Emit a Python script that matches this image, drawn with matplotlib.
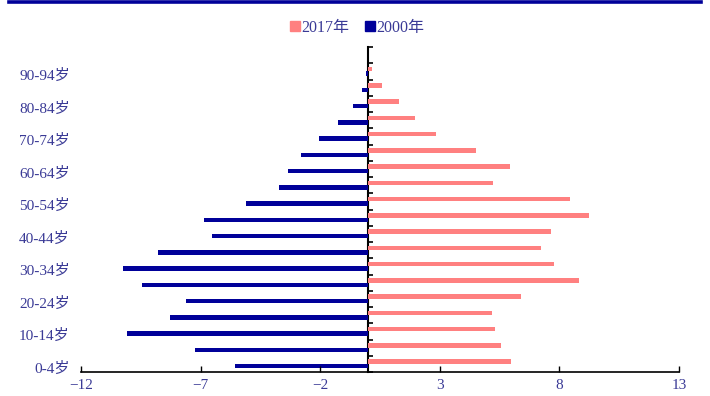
import numpy as np
import matplotlib
matplotlib.use('Agg')
import matplotlib.pyplot as plt
import matplotlib.transforms as mtransforms
from matplotlib.lines import Line2D

plt.rcParams['font.family'] = ['Liberation Serif', 'Noto Sans CJK SC', 'DejaVu Sans']

# 年龄组 0-4岁 ... 90-94岁 (占总人口比例, %)
age_groups = ['0-4岁', '5-9岁', '10-14岁', '15-19岁', '20-24岁', '25-29岁', '30-34岁',
              '35-39岁', '40-44岁', '45-49岁', '50-54岁', '55-59岁', '60-64岁', '65-69岁',
              '70-74岁', '75-79岁', '80-84岁', '85-89岁', '90-94岁']
pop_2017 = [5.97, 5.54, 5.31, 5.19, 6.40, 8.80, 7.78, 7.23, 7.66, 9.22,
            8.46, 5.23, 5.95, 4.51, 2.86, 1.97, 1.28, 0.59, 0.17]
pop_2000 = [5.55, 7.25, 10.08, 8.28, 7.62, 9.44, 10.24, 8.77, 6.54, 6.87,
            5.09, 3.72, 3.36, 2.80, 2.05, 1.27, 0.63, 0.24, 0.07]
x_ticks = [-12, -7, -2, 3, 8, 13]

pink = '#FF8080'
navy = '#000099'
txt = '#3a3a96'

fig = plt.figure(figsize=(7.10, 3.96), dpi=100)
ax = fig.add_axes([0.1141, 0.0606, 0.8422, 0.8207])

y = np.arange(len(age_groups))
h = 0.27
ax.barh(y + 0.135, pop_2017, height=h, color=pink, label='2017年')
ax.barh(y - 0.135, [-v for v in pop_2000], height=h, color=navy, label='2000年')

ax.set_xlim(-12, 13)
ax.set_ylim(-0.5, 19.5)
ax.set_xticks(x_ticks)
ax.set_xticklabels([str(v).replace('-', '\u2212') for v in x_ticks], color=txt, fontsize=11)
ax.tick_params(axis='x', direction='in', length=4, width=1, pad=5, color='black')

for s in ['top', 'right', 'left']:
    ax.spines[s].set_visible(False)
ax.spines['bottom'].set_linewidth(1.2)

# 年龄标签放在左侧, 刻度线画在 x=0 的纵轴上
ax.set_yticks(y[::2])
ax.set_yticklabels(age_groups[::2], color=txt, fontsize=11)
ax.tick_params(axis='y', length=0, pad=8)
shift = mtransforms.ScaledTranslation(0, -2.5 / 72, fig.dpi_scale_trans)
for lab in ax.get_yticklabels():
    lab.set_transform(lab.get_transform() + shift)

x0, x1 = ax.get_xlim()
sec = ax.secondary_yaxis((0 - x0) / (x1 - x0))
sec.set_yticks(np.arange(-0.5, 20, 1))
sec.set_yticklabels([])
sec.tick_params(axis='y', direction='in', length=3.5, width=1.2, color='black')
sec.spines['left'].set_linewidth(1.5)

# 图例
handles = [Line2D([], [], marker='s', linestyle='', color=pink, markersize=7),
           Line2D([], [], marker='s', linestyle='', color=navy, markersize=7)]
fig.legend(handles, ['2017年', '2000年'], loc='center', bbox_to_anchor=(0.503, 0.93),
           ncol=2, frameon=False, handlelength=0.6, handletextpad=0.1,
           columnspacing=1.0, labelcolor=txt, prop={'size': 11.5})

# 顶部深蓝色横条
fig.add_artist(Line2D([0.0127, 0.987], [0.996, 0.996], transform=fig.transFigure,
                      color=navy, linewidth=2.6))

fig.savefig('out.png', dpi=100)
